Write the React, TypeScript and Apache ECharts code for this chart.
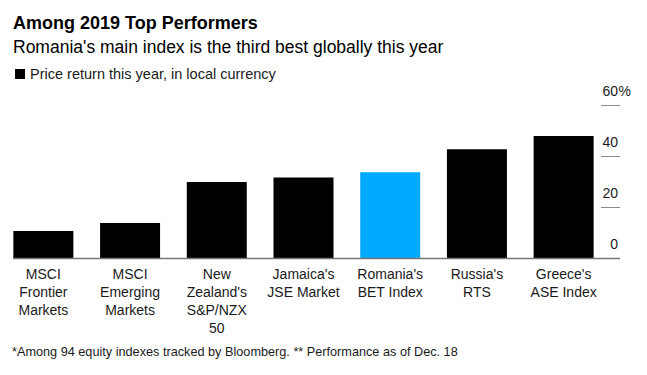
import React, { useEffect, useRef } from "react";
import * as echarts from "echarts";

const categories = [
  "MSCI\nFrontier\nMarkets",
  "MSCI\nEmerging\nMarkets",
  "New\nZealand's\nS&P/NZX\n50",
  "Jamaica's\nJSE Market",
  "Romania's\nBET Index",
  "Russia's\nRTS",
  "Greece's\nASE Index",
];
const values = [10.8, 13.9, 30.0, 31.8, 33.8, 42.8, 48.0];
const highlightIndex = 4;
const yTicks = [0, 20, 40, 60];

const FONT = "'Liberation Sans', Arial, Helvetica, sans-serif";

export default function App() {
  const ref = useRef<HTMLDivElement>(null);
  useEffect(() => {
    if (!ref.current) return;
    const chart = echarts.init(ref.current, null, { renderer: "svg" });
    chart.setOption({
      animation: false,
      backgroundColor: "#ffffff",
      textStyle: { fontFamily: FONT },
      grid: { left: 0, right: 40, top: 105.5, bottom: 116.5, containLabel: false },
      xAxis: {
        type: "category",
        data: categories,
        axisLine: { show: false },
        axisTick: { show: false },
        axisLabel: {
          interval: 0,
          margin: 6,
          color: "#1a1a1a",
          fontSize: 14,
          lineHeight: 18,
          fontFamily: FONT,
        },
      },
      yAxis: {
        type: "value",
        position: "right",
        min: 0,
        max: 60,
        interval: 20,
        offset: -6,
        axisLine: { show: false },
        splitLine: { show: false },
        axisTick: { show: true, length: 19, lineStyle: { color: "#8a8a8a", width: 1 } },
        axisLabel: { show: false },
      },
      series: [
        {
          type: "bar",
          barWidth: 60,
          data: values.map((v, i) => ({
            value: v,
            itemStyle: { color: i === highlightIndex ? "#00aaff" : "#000000" },
          })),
        },
      ],
    });
    const y0 = chart.convertToPixel({ yAxisIndex: 0 }, 0) as number;
    const tickLabels = yTicks.map((t) => ({
      type: "text",
      x: 618,
      y: (chart.convertToPixel({ yAxisIndex: 0 }, t) as number) - 8,
      style: {
        text: String(t),
        font: `14px ${FONT}`,
        fill: "#1a1a1a",
        align: "right",
        verticalAlign: "bottom",
      },
    }));
    const y60 = chart.convertToPixel({ yAxisIndex: 0 }, yTicks[yTicks.length - 1]) as number;
    chart.setOption({
      graphic: [
        {
          type: "text",
          left: 13,
          top: 14,
          style: { text: "Among 2019 Top Performers", font: `bold 18px ${FONT}`, fill: "#000" },
        },
        {
          type: "text",
          left: 13,
          top: 38,
          style: {
            text: "Romania's main index is the third best globally this year",
            font: `17.5px ${FONT}`,
            fill: "#000",
          },
        },
        { type: "rect", shape: { x: 15, y: 69, width: 10, height: 10 }, style: { fill: "#000" } },
        {
          type: "text",
          left: 30,
          top: 66,
          style: { text: "Price return this year, in local currency", font: `14.5px ${FONT}`, fill: "#1a1a1a" },
        },
        ...tickLabels,
        {
          type: "text",
          x: 618.5,
          y: y60 - 8,
          style: { text: "%", font: `14px ${FONT}`, fill: "#1a1a1a", align: "left", verticalAlign: "bottom" },
        },
        {
          type: "line",
          shape: { x1: 13, y1: y0, x2: 620, y2: y0 },
          style: { stroke: "#777777", lineWidth: 1.5 },
          z: 10,
        },
        {
          type: "text",
          left: 12,
          top: 345,
          style: {
            text: "*Among 94 equity indexes tracked by Bloomberg. ** Performance as of Dec. 18",
            font: `12.7px ${FONT}`,
            fill: "#1a1a1a",
          },
        },
      ],
    });
    return () => chart.dispose();
  }, []);
  return <div ref={ref} style={{ width: 647, height: 375, position: "absolute", left: 0, top: 0 }} />;
}
